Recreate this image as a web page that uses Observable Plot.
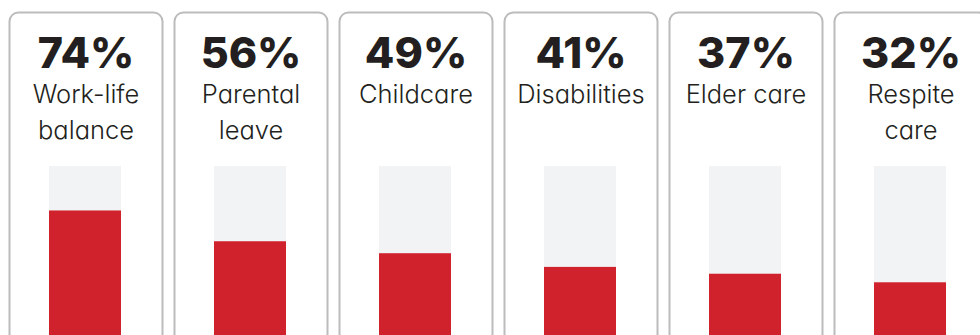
<!DOCTYPE html>
<html>
<head>
<meta charset="utf-8">
<script src="https://cdn.jsdelivr.net/npm/d3@7"></script>
<script src="https://cdn.jsdelivr.net/npm/@observablehq/plot@0.6"></script>
<style>
  html, body { margin: 0; padding: 0; background: #fff; overflow: hidden; }
  #chart svg { display: block; overflow: hidden; }
  #chart svg text { font-feature-settings: "cv11"; }
</style>
</head>
<body>
<div id="chart"></div>
<script>
// Categories (labels with their line breaks) and percentages
const categories = ["Work-life\nbalance", "Parental\nleave", "Childcare", "Disabilities", "Elder care", "Respite\ncare"];
const values = [74, 56, 49, 41, 37, 32];
const maxValue = 100;

const data = categories.map((c, i) => ({category: c, value: values[i], full: maxValue}));

const fs = 25.5, lh = 1.4;

const plot = Plot.plot({
  width: 980,
  height: 335,
  marginTop: 11,
  marginLeft: 7,
  marginRight: -9.5,
  marginBottom: -30,
  style: {background: "#fff", color: "#231f20"},
  fx: {domain: categories, padding: 0.0634, axis: null},
  x: {axis: null, padding: 0.36},
  y: {domain: [0, maxValue], range: [337, 166], axis: null},
  marks: [
    Plot.frame({stroke: "#bcbcbc", strokeWidth: 2, rx: 9, inset: 1}),
    Plot.barY(data, {fx: "category", x: () => "bar", y: "full", fill: "#f2f3f5"}),
    Plot.barY(data, {fx: "category", x: () => "bar", y: "value", fill: "#d0222c"}),
    Plot.text(data, {
      fx: "category",
      text: d => d.value + "%",
      frameAnchor: "top",
      lineAnchor: "bottom",
      dy: 56,
      fontFamily: "Inter",
      fontWeight: 800,
      fontSize: 43,
      fill: "#231f20"
    }),
    Plot.text(data, {
      fx: "category",
      text: "category",
      frameAnchor: "top",
      lineAnchor: "top",
      dy: 103 - 11 - 0.71 * lh * fs,
      lineHeight: lh,
      fontFamily: "Inter",
      fontWeight: 300,
      fontSize: fs,
      fill: "#231f20"
    })
  ]
});
document.getElementById("chart").appendChild(plot);
</script>
</body>
</html>
